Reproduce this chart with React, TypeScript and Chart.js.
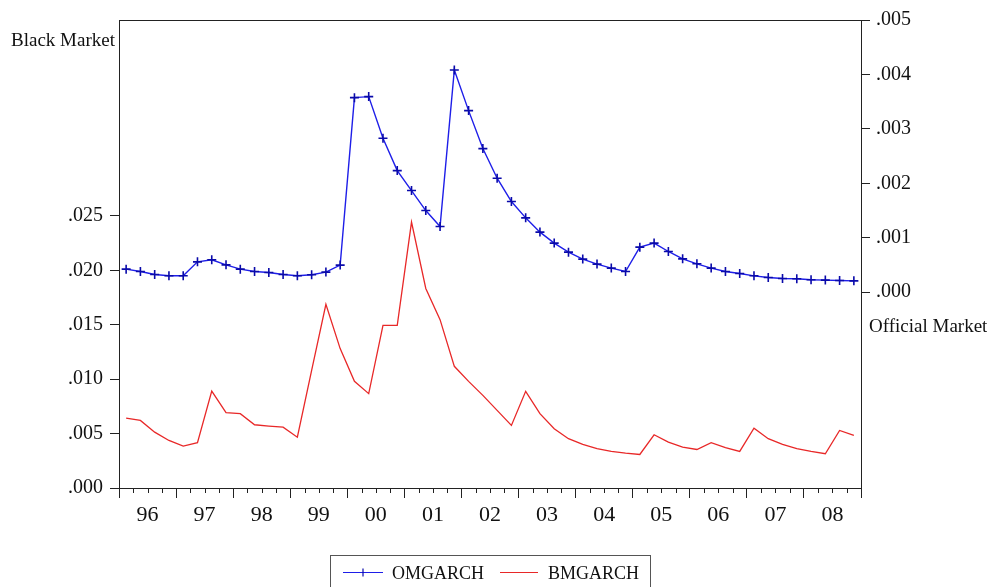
import React, { useEffect, useRef } from 'react';
import { Chart, registerables } from 'chart.js';

Chart.register(...registerables);

// Quarterly data, 1996Q1 .. 2008Q4
const years = ['96', '97', '98', '99', '00', '01', '02', '03', '04', '05', '06', '07', '08'];
const quartersPerYear = 4;

// OMGARCH (Official Market, right axis)
const omgarch = [
  0.000422, 0.000378, 0.000323, 0.000299, 0.000299, 0.000556, 0.000593, 0.000501,
  0.000422, 0.000378, 0.000360, 0.000323, 0.000299, 0.000318, 0.000367, 0.000496,
  0.003573, 0.003592, 0.002828, 0.002233, 0.001866, 0.001498, 0.001205, 0.004082,
  0.003335, 0.002637, 0.002093, 0.001664, 0.001364, 0.001102, 0.000900, 0.000734,
  0.000606, 0.000514, 0.000441, 0.000378, 0.000826, 0.000900, 0.000746, 0.000611,
  0.000520, 0.000441, 0.000378, 0.000342, 0.000299, 0.000268, 0.000250, 0.000244,
  0.000226, 0.000220, 0.000213, 0.000207,
];

// BMGARCH (Black Market, left axis)
const bmgarch = [
  0.00642, 0.00621, 0.00513, 0.00437, 0.00385, 0.00416, 0.00891, 0.00692,
  0.00683, 0.00581, 0.00569, 0.00559, 0.00467, 0.01081, 0.01688, 0.01281,
  0.00980, 0.00867, 0.01495, 0.01495, 0.02443, 0.01833, 0.01547, 0.01118,
  0.00980, 0.00851, 0.00713, 0.00575, 0.00888, 0.00683, 0.00545, 0.00453,
  0.00400, 0.00361, 0.00336, 0.00320, 0.00308, 0.00489, 0.00421, 0.00375,
  0.00354, 0.00416, 0.00370, 0.00336, 0.00550, 0.00453, 0.00400, 0.00361,
  0.00336, 0.00315, 0.00529, 0.00483,
];

const leftTicks = [0, 0.005, 0.01, 0.015, 0.02, 0.025];
const rightTicks = [0, 0.001, 0.002, 0.003, 0.004, 0.005];
const leftMin = 0;
const leftMax = 0.043;
const rightMin = -0.0036;
const rightMax = 0.005;

const leftTitle = 'Black Market';
const rightTitle = 'Official Market';
const seriesNames = ['OMGARCH', 'BMGARCH'];

const BLUE = 'rgb(30,30,232)';
const MARK = 'rgb(10,10,170)';
const RED = 'rgb(232,40,40)';
const AXIS = '#222';
const FONT = 'Liberation Serif';

const fmt = (v: number) => v.toFixed(3).replace(/^0/, '');

export default function App() {
  const ref = useRef<HTMLCanvasElement | null>(null);

  useEffect(() => {
    if (!ref.current) return;
    const nQ = years.length * quartersPerYear;

    const framePlugin = {
      id: 'frame',
      afterDraw(chart: any) {
        const { ctx, chartArea } = chart;
        const xs = chart.scales.x;
        ctx.save();
        ctx.strokeStyle = AXIS;
        ctx.lineWidth = 1;
        // top border
        ctx.beginPath();
        ctx.moveTo(chartArea.left, Math.round(chartArea.top) + 0.5);
        ctx.lineTo(chartArea.right, Math.round(chartArea.top) + 0.5);
        ctx.stroke();
        // minor quarter ticks
        ctx.beginPath();
        for (let q = 0; q <= nQ; q++) {
          if (q % quartersPerYear === 0) continue;
          const px = Math.round(xs.getPixelForValue(q)) + 0.5;
          ctx.moveTo(px, chartArea.bottom);
          ctx.lineTo(px, chartArea.bottom + 5);
        }
        ctx.stroke();

        // axis titles
        ctx.fillStyle = '#111';
        ctx.font = `19px "${FONT}"`;
        ctx.textBaseline = 'alphabetic';
        ctx.textAlign = 'left';
        ctx.fillText(leftTitle, 11, 45.5);
        ctx.fillText(rightTitle, 869, 331.5);

        // legend
        ctx.strokeStyle = '#555';
        ctx.strokeRect(330.5, 555.5, 320, 40);
        ctx.lineWidth = 1.2;
        ctx.strokeStyle = BLUE;
        ctx.beginPath();
        ctx.moveTo(343, 572.5);
        ctx.lineTo(383, 572.5);
        ctx.stroke();
        ctx.strokeStyle = MARK;
        ctx.beginPath();
        ctx.moveTo(363, 568.5);
        ctx.lineTo(363, 576.5);
        ctx.stroke();
        ctx.strokeStyle = RED;
        ctx.beginPath();
        ctx.moveTo(500, 572.5);
        ctx.lineTo(538, 572.5);
        ctx.stroke();
        ctx.fillStyle = '#111';
        ctx.font = `18px "${FONT}"`;
        ctx.fillText(seriesNames[0], 392, 579);
        ctx.fillText(seriesNames[1], 548, 579);
        ctx.restore();
      },
    };

    const chart = new Chart(ref.current, {
      type: 'line',
      data: {
        datasets: [
          {
            label: seriesNames[0],
            data: omgarch.map((v, i) => ({ x: i + 0.5, y: v })),
            yAxisID: 'y1',
            borderColor: BLUE,
            borderWidth: 1.4,
            pointStyle: 'cross',
            pointRadius: 4.5,
            pointBorderWidth: 1.6,
            pointBorderColor: MARK,
            pointBackgroundColor: MARK,
            tension: 0,
            fill: false,
          },
          {
            label: seriesNames[1],
            data: bmgarch.map((v, i) => ({ x: i + 0.5, y: v })),
            yAxisID: 'y',
            borderColor: RED,
            borderWidth: 1.3,
            pointRadius: 0,
            tension: 0,
            fill: false,
          },
        ],
      },
      options: {
        responsive: false,
        animation: false,
        layout: { padding: { top: 20, left: 0, right: 0, bottom: 0 } },
        plugins: {
          legend: { display: false },
          tooltip: { enabled: false },
        },
        scales: {
          x: {
            type: 'linear',
            min: 0,
            max: nQ,
            afterBuildTicks: (scale: any) => {
              const t = [];
              for (let q = 0; q <= nQ; q++) t.push({ value: q });
              scale.ticks = t;
            },
            afterFit: (scale: any) => {
              scale.height = 99;
            },
            border: { display: true, color: AXIS, width: 1 },
            grid: {
              drawOnChartArea: false,
              drawTicks: true,
              tickLength: 10,
              tickColor: (c: any) =>
                c.tick && c.tick.value % quartersPerYear === 0 ? AXIS : 'rgba(0,0,0,0)',
            },
            ticks: {
              autoSkip: false,
              maxRotation: 0,
              minRotation: 0,
              padding: 4,
              color: '#111',
              font: { family: FONT, size: 22 },
              callback: (v: any) => {
                const q = Number(v);
                return q % quartersPerYear === 2 ? years[(q - 2) / quartersPerYear] : '';
              },
            },
          },
          y: {
            type: 'linear',
            position: 'left',
            min: leftMin,
            max: leftMax,
            afterBuildTicks: (scale: any) => {
              scale.ticks = leftTicks.map((v) => ({ value: v }));
            },
            afterFit: (scale: any) => {
              scale.width = 119;
            },
            border: { display: true, color: AXIS, width: 1 },
            grid: { drawOnChartArea: false, tickLength: 9, tickColor: AXIS },
            ticks: {
              padding: 7,
              color: '#111',
              font: { family: FONT, size: 20 },
              callback: (v: any) => fmt(Number(v)),
            },
          },
          y1: {
            type: 'linear',
            position: 'right',
            min: rightMin,
            max: rightMax,
            afterBuildTicks: (scale: any) => {
              scale.ticks = rightTicks.map((v) => ({ value: v }));
            },
            afterFit: (scale: any) => {
              scale.width = 126;
            },
            border: { display: true, color: AXIS, width: 1 },
            grid: { drawOnChartArea: false, tickLength: 9, tickColor: AXIS },
            ticks: {
              padding: 6,
              color: '#111',
              font: { family: FONT, size: 20 },
              callback: (v: any) => fmt(Number(v)),
            },
          },
        },
      },
      plugins: [framePlugin],
    });

    return () => chart.destroy();
  }, []);

  return (
    <div style={{ position: 'fixed', left: 0, top: 0, width: 987, height: 587, background: '#fff', overflow: 'hidden' }}>
      <canvas ref={ref} width={987} height={587} style={{ width: 987, height: 587, display: 'block' }} />
    </div>
  );
}
